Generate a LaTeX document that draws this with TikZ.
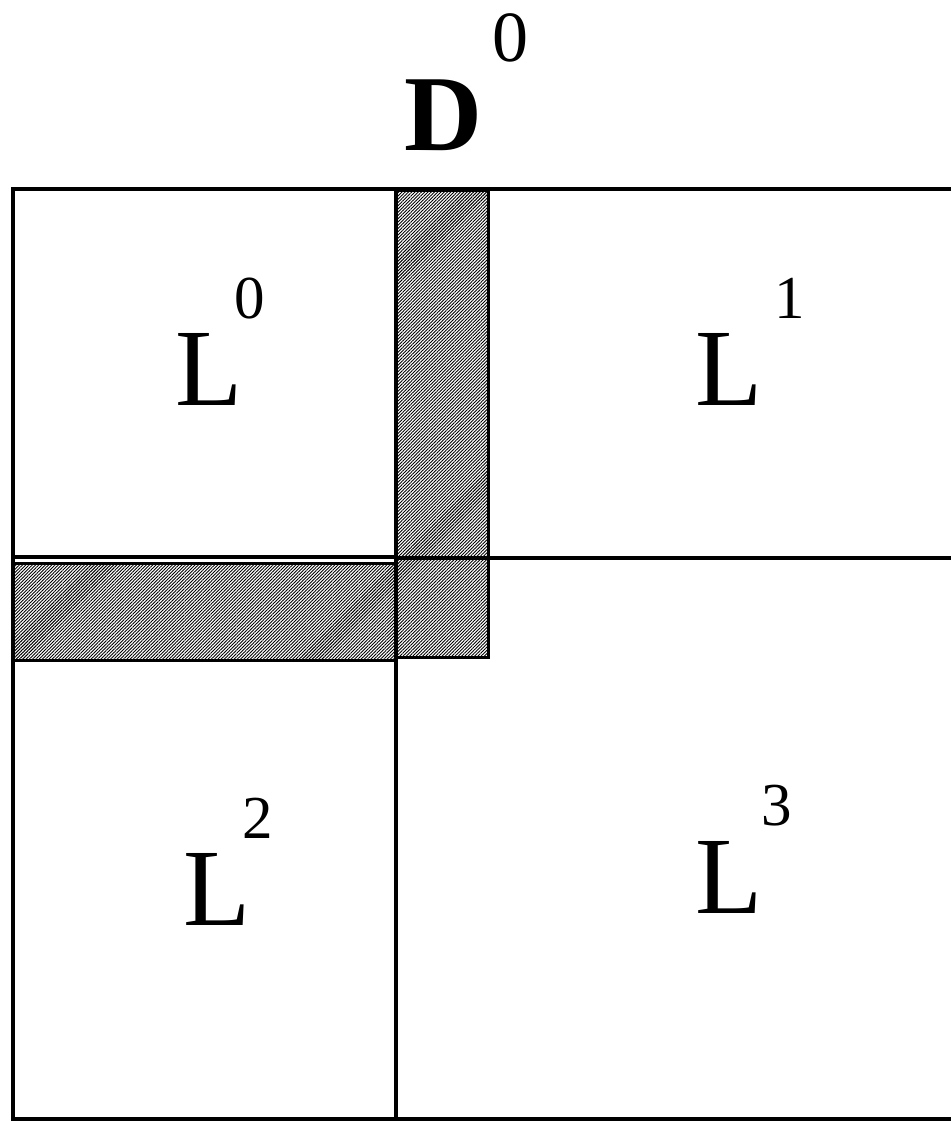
\documentclass[tikz,border=0pt]{standalone}
\usepackage{fontspec}
\setmainfont{Liberation Serif}
\usetikzlibrary{patterns.meta}

\begin{document}
\begin{tikzpicture}[x=1pt, y=-1pt, line width=3.2pt]
    \tikzstyle{hatch} = [draw, line width=3pt, pattern={Lines[angle=45, distance=2.3pt, line width=0.9pt]}, pattern color=black]
    \tikzstyle{big} = [inner sep=0pt, anchor=base west, font=\fontsize{110}{110}\selectfont]
    \tikzstyle{sup} = [inner sep=0pt, anchor=base west, font=\fontsize{61}{61}\selectfont]

    \useasboundingbox (0,0) rectangle (951,1121);

    % the block D^0 and its four parts
    \draw (951,189) -- (13,189) -- (13,1119) -- (951,1119);
    \draw (396,189) -- (396,1119);
    \draw (13,557) -- (396,557);
    \draw (396,558) -- (951,558);

    % shaded borders
    \path [hatch] (396,190) rectangle (488,558);
    \path [hatch] (13,563) rectangle (396,660);
    \path [hatch] (396,558) rectangle (488,657);

    % labels
    \node [inner sep=0pt, anchor=base west, font=\fontsize{108}{108}\selectfont\bfseries] (dlab) at (403,150) {D};
    \node [inner sep=0pt, anchor=base west, font=\fontsize{72}{72}\selectfont] (dsup) at (491,62) {0};

    \node [big] (lzero) at (174,405) {L};
    \node [sup] (lzerosup) at (233,318) {0};
    \node [big] (lone) at (694,405) {L};
    \node [sup] (lonesup) at (773,318) {1};
    \node [big] (ltwo) at (182,925) {L};
    \node [sup] (ltwosup) at (241,838) {2};
    \node [big] (lthree) at (694,913) {L};
    \node [sup] (lthreesup) at (760,825) {3};
\end{tikzpicture}
\end{document}
